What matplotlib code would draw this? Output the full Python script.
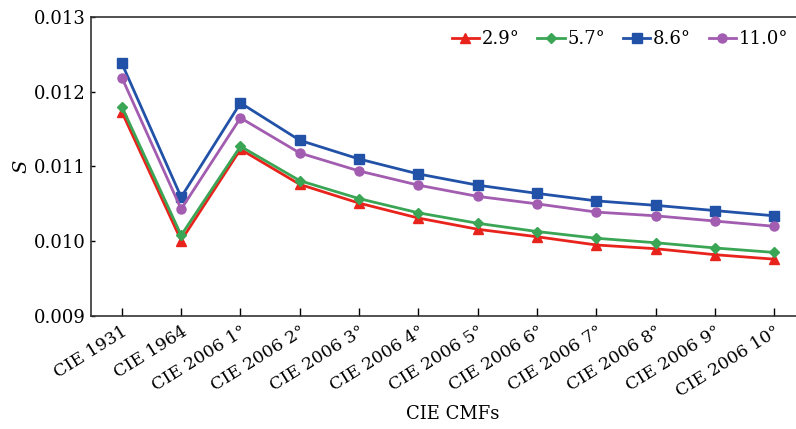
import matplotlib
matplotlib.use('Agg')
import matplotlib.pyplot as plt

plt.rcParams['font.family'] = ['DejaVu Serif']
plt.rcParams['mathtext.fontset'] = 'dejavuserif'

cmfs = ['CIE 1931', 'CIE 1964', 'CIE 2006 1°', 'CIE 2006 2°', 'CIE 2006 3°',
        'CIE 2006 4°', 'CIE 2006 5°', 'CIE 2006 6°', 'CIE 2006 7°',
        'CIE 2006 8°', 'CIE 2006 9°', 'CIE 2006 10°']

s_29 = [0.01173, 0.01001, 0.01123, 0.01076, 0.01051, 0.01031,
        0.01016, 0.01006, 0.00995, 0.00990, 0.00982, 0.00976]
s_57 = [0.01180, 0.01008, 0.01127, 0.01081, 0.01057, 0.01038,
        0.01024, 0.01013, 0.01004, 0.00998, 0.00991, 0.00985]
s_86 = [0.01238, 0.01059, 0.01185, 0.01135, 0.01110, 0.01090,
        0.01075, 0.01064, 0.01054, 0.01048, 0.01041, 0.01034]
s_110 = [0.01219, 0.01043, 0.01165, 0.01118, 0.01094, 0.01075,
         0.01060, 0.01050, 0.01039, 0.01034, 0.01027, 0.01020]

fig = plt.figure(figsize=(7.96, 4.29), dpi=100)
# right edge of the frame runs off the picture, like in the original
ax = fig.add_axes([0.1143, 0.2634, 0.91, 0.697])

x = range(len(cmfs))
ax.plot(x, s_29, color='#e8231c', marker='^', ms=7, lw=2, label='2.9°')
ax.plot(x, s_57, color='#3aa655', marker='D', ms=5.5, lw=2, label='5.7°')
ax.plot(x, s_86, color='#2252a8', marker='s', ms=6.5, lw=2, label='8.6°')
ax.plot(x, s_110, color='#a25cb0', marker='o', ms=6.5, lw=2, label='11.0°')

ax.set_xlim(-0.52, 11.69)
ax.set_ylim(0.009, 0.013)
ax.set_yticks([0.009, 0.010, 0.011, 0.012, 0.013])
ax.set_yticklabels(['0.009', '0.010', '0.011', '0.012', '0.013'], fontsize=13)
ax.set_xticks(list(x))
ax.set_xticklabels(cmfs, rotation=32, ha='right', rotation_mode='anchor', fontsize=12.5)
ax.tick_params(axis='x', direction='in', length=6, width=1, pad=5)
ax.tick_params(axis='y', direction='in', length=3, width=1, pad=4)
for sp in ax.spines.values():
    sp.set_color('#333333')
    sp.set_linewidth(1.2)

ax.set_ylabel('$S$', fontsize=14, labelpad=2)
ax.set_xlabel('CIE CMFs', fontsize=13, labelpad=3)

ax.legend(loc='upper right', ncol=4, frameon=False, fontsize=13,
          handlelength=1.5, handletextpad=0.15, columnspacing=1.0,
          bbox_to_anchor=(0.985, 1.01))

fig.savefig('out.png', dpi=100)
